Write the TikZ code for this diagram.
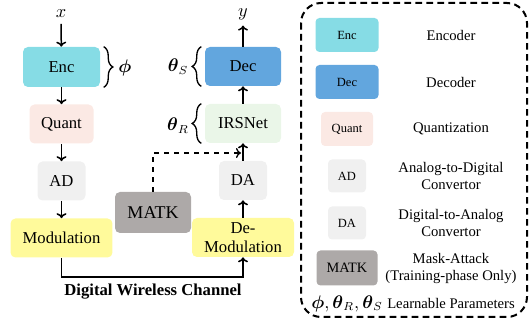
\documentclass[tikz,border=0pt]{standalone}
\usepackage{fontspec}
\setmainfont{Liberation Serif}
\usepackage{amsmath}
\usetikzlibrary{positioning,decorations.pathreplacing,arrows.meta}
\definecolor{encblue}{RGB}{134,220,229}
\definecolor{decblue}{RGB}{98,166,222}
\definecolor{quantpink}{RGB}{251,233,228}
\definecolor{irsgreen}{RGB}{234,246,232}
\definecolor{adgray}{RGB}{240,240,240}
\definecolor{modyellow}{RGB}{255,250,155}
\definecolor{matkgray}{RGB}{173,169,168}
\begin{document}
\begin{tikzpicture}[x=0.6pt,y=-0.6pt,node distance=34.2pt,>={To[length=3pt,width=6pt]},
  blk/.style={rounded corners=3pt, inner sep=0pt, minimum height=23.4pt, align=center, font=\fontsize{10}{11.5}\selectfont},
  lgblk/.style={rounded corners=2.4pt, inner sep=0pt, minimum height=20.4pt, font=\fontsize{7.5}{9}\selectfont},
  lgtxt/.style={align=center, font=\fontsize{8.8}{10.2}\selectfont},
  flow/.style={->, line width=0.9pt},
  brc/.style={decorate, decoration={brace, amplitude=5.5pt}, line width=0.8pt}]
\useasboundingbox (0,0) rectangle (529,326);

\fill node[blk, fill=encblue, minimum width=46.2pt, minimum height=24pt] (enc) at (61.5,67) {Enc};
\fill node[blk, fill=quantpink, minimum width=38.4pt, below of=enc] (quant) {Quant};
\fill node[blk, fill=adgray, minimum width=28.8pt, below of=quant] (ad) {AD};
\fill node[blk, fill=modyellow, minimum width=61.2pt, below of=ad] (mod) {Modulation};

\fill node[blk, fill=decblue, minimum width=45.6pt] (dec) at (243,66.5) {Dec};
\fill node[blk, fill=irsgreen, minimum width=45.6pt, below of=dec] (irs) {IRSNet};
\fill node[blk, fill=adgray, minimum width=28.8pt, below of=irs] (da) {DA};
\fill node[blk, fill=modyellow, minimum width=61.2pt, below of=da] (demod) {De-\\Modulation};

\fill node[blk, fill=matkgray, minimum width=45.6pt, minimum height=24.6pt, font=\fontsize{10.8}{12}\selectfont] (matk) at (153,212.5) {MATK};

\node[font=\fontsize{11}{13}\selectfont] (x) at (61,14) {$x$};
\node[font=\fontsize{11}{13}\selectfont] (y) at (243,14) {$y$};
\node[font=\fontsize{11}{13}\selectfont] (phi) at (125,68) {$\boldsymbol{\phi}$};
\node[font=\fontsize{10.5}{13}\selectfont] (ths) at (178,67) {$\boldsymbol{\theta}_S$};
\node[font=\fontsize{10.5}{13}\selectfont] (thr) at (178,126) {$\boldsymbol{\theta}_R$};
\node[font=\bfseries] (chan) at (153,292) {Digital Wireless Channel};
\coordinate (hit) at (241,153);
\coordinate (ch) at (153,277);

\draw[flow] (x) -- (enc);
\draw[flow] (enc) -- (quant);
\draw[flow] (quant) -- (ad);
\draw[flow] (ad) -- (mod);
\draw[flow] (mod.south) |- (ch) -| (demod.south);
\draw[flow] (demod) -- (da);
\draw[flow] (da) -- (irs);
\draw[flow] (irs) -- (dec);
\draw[flow] (dec) -- (y);
\draw[->, dashed, line width=0.8pt] (matk) |- (hit);

\draw[brc] ([xshift=2pt]enc.north east) -- ([xshift=2pt]enc.south east);
\draw[brc] ([xshift=-2pt]dec.south west) -- ([xshift=-2pt]dec.north west);
\draw[brc] ([xshift=-2pt]irs.south west) -- ([xshift=-2pt]irs.north west);

\draw[line width=1.2pt, dash pattern=on 4pt off 2.6pt, rounded corners=12pt] (301,3) rectangle (527,317);

\fill node[lgblk, fill=encblue, minimum width=37.8pt] (lg-enc) at (347,35) {Enc};
\fill node[lgblk, fill=decblue, minimum width=37.8pt, below of=lg-enc, node distance=28.2pt] (lg-dec) {Dec};
\fill node[lgblk, fill=quantpink, minimum width=31.2pt, below of=lg-dec, node distance=28.2pt] (lg-quant) {Quant};
\fill node[lgblk, fill=adgray, minimum width=22.8pt, minimum height=19.8pt, below of=lg-quant, node distance=28.2pt] (lg-ad) {AD};
\fill node[lgblk, fill=adgray, minimum width=22.8pt, minimum height=19.8pt, below of=lg-ad, node distance=28.2pt] (lg-da) {DA};
\fill node[lgblk, fill=matkgray, minimum width=36.6pt, minimum height=21pt, below of=lg-da, node distance=27pt, font=\fontsize{8.6}{10}\selectfont] (lg-matk) {MATK};
\node[below of=lg-matk, node distance=21.3pt, font=\fontsize{10.5}{12}\selectfont] (lg-par) {$\boldsymbol{\phi},\boldsymbol{\theta}_R,\boldsymbol{\theta}_S$};

\node[lgtxt, right of=lg-enc, node distance=62.4pt] (tx-enc) {Encoder};
\node[lgtxt, right of=lg-dec, node distance=62.4pt] (tx-dec) {Decoder};
\node[lgtxt, right of=lg-quant, node distance=62.4pt] (tx-quant) {Quantization};
\node[lgtxt, right of=lg-ad, node distance=62.4pt] (tx-ad) {Analog-to-Digital\\Convertor};
\node[lgtxt, right of=lg-da, node distance=62.4pt] (tx-da) {Digital-to-Analog\\Convertor};
\node[lgtxt, right of=lg-matk, node distance=62.4pt] (tx-matk) {Mask-Attack\\(Training-phase Only)};
\node[lgtxt, right of=lg-par, node distance=62.4pt] (tx-par) {Learnable Parameters};
\end{tikzpicture}
\end{document}
